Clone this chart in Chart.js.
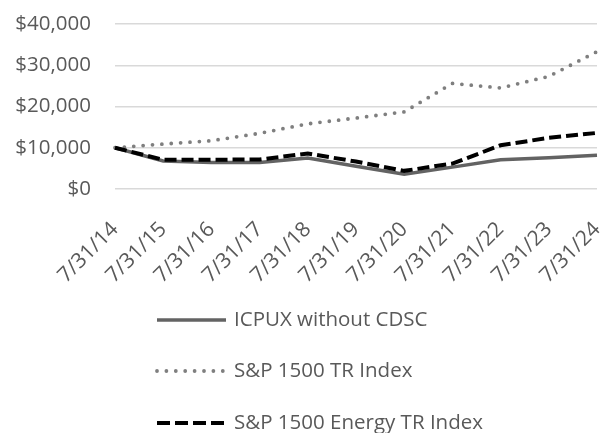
<!DOCTYPE html>
<html>
<head>
<meta charset="utf-8">
<script src="https://cdn.jsdelivr.net/npm/chart.js@4"></script>
<style>
  html, body { margin: 0; padding: 0; background: #fff; }
  #wrap { width: 600px; height: 433px; }
</style>
</head>
<body>
<div id="wrap"><canvas id="growth" width="600" height="433"></canvas></div>
<script>
/* ── Data ───────────────────────────────────────────────── */
const dates = ['7/31/14','7/31/15','7/31/16','7/31/17','7/31/18','7/31/19',
               '7/31/20','7/31/21','7/31/22','7/31/23','7/31/24'];
const fundValues   = [10000, 6800, 6400, 6400, 7500, 5500, 3600, 5300, 7100, 7600, 8200];
const sp1500Values = [10000, 10900, 11700, 13500, 15800, 17200, 18700, 25600, 24500, 27300, 33300];
const energyValues = [10000, 7100, 7100, 7150, 8600, 6650, 4400, 6150, 10600, 12400, 13600];
const seriesNames  = ['ICPUX without CDSC', 'S&P 1500 TR Index', 'S&P 1500 Energy TR Index'];
const yTicks       = [0, 10000, 20000, 30000, 40000];

const FONT = '"Open Sans", "Liberation Sans", sans-serif';
const TXT  = '#595959';

// ── Legend drawn stacked under the axis ─────────────────────
const stackedLegend = {
  id: 'stackedLegend',
  afterDraw: function(chart) {
    const ctx = chart.ctx;
    const rows = [320, 371, 423];
    chart.data.datasets.forEach(function(ds, i) {
      const y = rows[i];
      ctx.save();
      ctx.strokeStyle = ds.borderColor;
      ctx.lineWidth = ds.borderWidth;
      ctx.lineCap = ds.borderCapStyle || 'butt';
      ctx.setLineDash(ds.legendDash || ds.borderDash || []);
      ctx.beginPath();
      ctx.moveTo(157, y);
      ctx.lineTo(226, y);
      ctx.stroke();
      ctx.setLineDash([]);
      ctx.fillStyle = TXT;
      ctx.font = '20.5px ' + FONT;
      ctx.textBaseline = 'middle';
      ctx.fillText(ds.label, 234, y);
      ctx.restore();
    });
  }
};

const ctx = document.getElementById('growth').getContext('2d');
new Chart(ctx, {
  type: 'line',
  data: {
    labels: dates,
    datasets: [{
      label: seriesNames[0],
      data: fundValues,
      borderColor: '#636363',
      borderWidth: 3.5,
      pointRadius: 0,
      tension: 0,
      order: 2
    }, {
      label: seriesNames[1],
      data: sp1500Values,
      borderColor: '#7f7f7f',
      borderWidth: 3.8,
      borderDash: [0, 9.4],
      borderCapStyle: 'round',
      pointRadius: 0,
      tension: 0,
      order: 3
    }, {
      label: seriesNames[2],
      data: energyValues,
      borderColor: '#000000',
      borderWidth: 4,
      borderDash: [12, 5],
      legendDash: [13, 5],
      pointRadius: 0,
      tension: 0,
      order: 1
    }]
  },
  options: {
    responsive: false,
    animation: false,
    layout: { padding: { top: 24, left: 0, right: 3, bottom: 0 } },
    plugins: {
      legend: { display: false },
      tooltip: { enabled: false }
    },
    scales: {
      x: {
        offset: false,
        border: { display: false },
        grid: { display: false },
        ticks: {
          color: TXT,
          font: { family: FONT, size: 21 },
          maxRotation: 45,
          minRotation: 45,
          padding: 20
        },
        afterFit: function(s) {
          s.height = 433 - 189;
          s.paddingRight = 0;
          s.paddingLeft = 0;
        }
      },
      y: {
        min: 0,
        max: 40000,
        border: { display: false },
        grid: { color: '#d9d9d9', lineWidth: 1.5, drawTicks: false },
        afterBuildTicks: function(s) {
          s.ticks = yTicks.map(function(v) { return { value: v }; });
        },
        ticks: {
          color: TXT,
          font: { family: FONT, size: 20.5 },
          padding: 24,
          callback: function(v) { return '$' + v.toLocaleString('en-US'); }
        },
        afterFit: function(s) {
          s.width = 115;
          s.paddingTop = 0;
          s.paddingBottom = 0;
        }
      }
    }
  },
  plugins: [stackedLegend]
});
</script>
</body>
</html>
